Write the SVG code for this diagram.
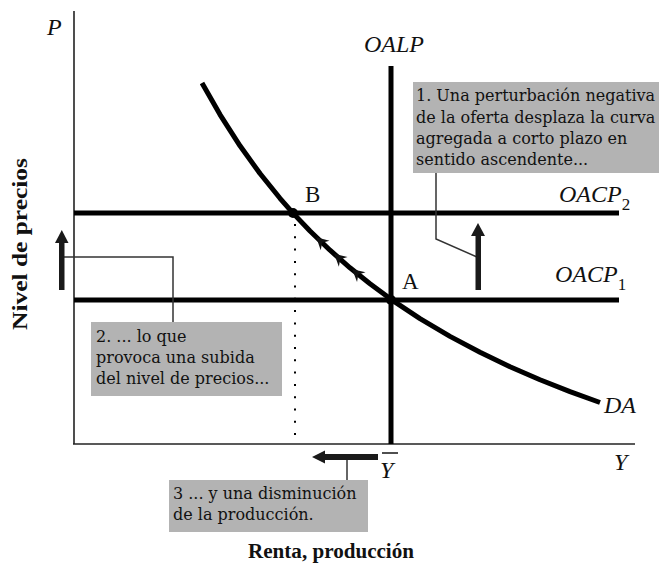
<svg xmlns="http://www.w3.org/2000/svg" width="662" height="567" viewBox="0 0 662 567">
<style>
.ax{stroke:#222;stroke-width:1.6;fill:none}
.thick{stroke:#000;stroke-width:5;fill:none}
.lead{stroke:#333;stroke-width:1.5;fill:none}
.box{fill:#b3b3b3}
.bt{font-family:"DejaVu Serif","Liberation Serif",serif;font-size:16px;fill:#111}
.it{font-family:"Liberation Serif",serif;font-style:italic;font-size:24px;fill:#111}
.sub{font-style:normal;font-size:17px}
.rm{font-family:"Liberation Serif",serif;font-size:23px;fill:#111}
.ttl{font-family:"Liberation Serif",serif;font-weight:bold;font-size:20px;fill:#111}
.arr{fill:#1a1a1a}
</style>
<defs>
<path id="chev" d="M1,0 L-11,-6.5 L-7,0 L-11,6.5 Z" fill="#111"/>
</defs>
<rect width="662" height="567" fill="#fff"/>
<g id="axes">
<line class="ax" x1="74" y1="11" x2="74" y2="444"/>
<line class="ax" x1="73" y1="444" x2="635" y2="444"/>
<text class="it" x="47" y="35">P</text>
<text class="it" x="614" y="470">Y</text>
<text class="it" x="380" y="478">Y</text>
<line class="ax" x1="382" y1="453" x2="398" y2="453"/>
<text class="ttl" x="331" y="558" text-anchor="middle" textLength="166" lengthAdjust="spacingAndGlyphs">Renta, producción</text>
<text class="ttl" transform="translate(27,244) rotate(-90)" text-anchor="middle" textLength="172" lengthAdjust="spacingAndGlyphs">Nivel de precios</text>
</g>
<g id="OALP">
<line class="thick" x1="391" y1="66" x2="391" y2="444"/>
<text class="it" x="364" y="52">OALP</text>
</g>
<g id="OACP2">
<line class="thick" x1="74" y1="213" x2="619" y2="213"/>
<text class="it" x="559" y="202" font-size="23">OACP<tspan class="sub" dy="8">2</tspan></text>
</g>
<g id="OACP1">
<line class="thick" x1="74" y1="300" x2="619" y2="300"/>
<text class="it" x="555" y="282" font-size="23">OACP<tspan class="sub" dy="8">1</tspan></text>
</g>
<g id="DA">
<path class="thick" stroke-linejoin="round" d="M202,83 L220,114.6 L240,145.8 L260,173.5 L280,198.3 L293,213.1 L310,231 L330,250.2 L350,267.8 L370,283.8 L391,299.3 L420,318.6 L450,336.4 L480,352.3 L510,366.7 L540,379.7 L570,391.6 L600,402.5"/>
<use href="#chev" transform="translate(317,238) rotate(222.5)"/>
<use href="#chev" transform="translate(335,254.5) rotate(221.8)"/>
<use href="#chev" transform="translate(353,270) rotate(221)"/>
<text class="it" x="604" y="413">DA</text>
</g>
<g id="B">
<circle cx="293" cy="213" r="5" fill="#000"/>
<text class="rm" x="305" y="202">B</text>
<line stroke="#000" stroke-width="2" stroke-dasharray="2 10.3" x1="295" y1="224" x2="295" y2="443"/>
</g>
<g id="A">
<circle cx="391" cy="300" r="5" fill="#000"/>
<text class="rm" x="402" y="289">A</text>
</g>
<g id="box1">
<rect class="box" x="413" y="82" width="246" height="91"/>
<text class="bt" x="416" y="101">1. Una perturbación negativa</text>
<text class="bt" x="416" y="123">de la oferta desplaza la curva</text>
<text class="bt" x="416" y="144">agregada a corto plazo en</text>
<text class="bt" x="416" y="165">sentido ascendente...</text>
</g>
<g id="box2">
<rect class="box" x="91" y="322" width="191" height="74"/>
<text class="bt" x="96" y="342">2. ... lo que</text>
<text class="bt" x="96" y="363">provoca una subida</text>
<text class="bt" x="96" y="384">del nivel de precios...</text>
</g>
<g id="box3">
<rect class="box" x="169" y="480" width="199" height="52"/>
<text class="bt" x="173" y="499">3 ... y una disminución</text>
<text class="bt" x="173" y="520">de la producción.</text>
</g>
<g id="connectors">
<polyline class="lead" points="436,173 436,239 477,257"/>
<polyline class="lead" points="64,257 173,257 173,322"/>
<line class="lead" x1="347" y1="458" x2="347" y2="480"/>
<rect class="arr" x="475.5" y="233" width="5.5" height="57"/>
<polygon class="arr" points="478,223 485,236 471,236"/>
<rect class="arr" x="59" y="240" width="5.5" height="50"/>
<polygon class="arr" points="61.8,230 68.5,243 55,243"/>
<rect class="arr" x="322" y="454" width="56" height="6"/>
<polygon class="arr" points="312,457 325,450.5 325,463.5"/>
</g>
</svg>
